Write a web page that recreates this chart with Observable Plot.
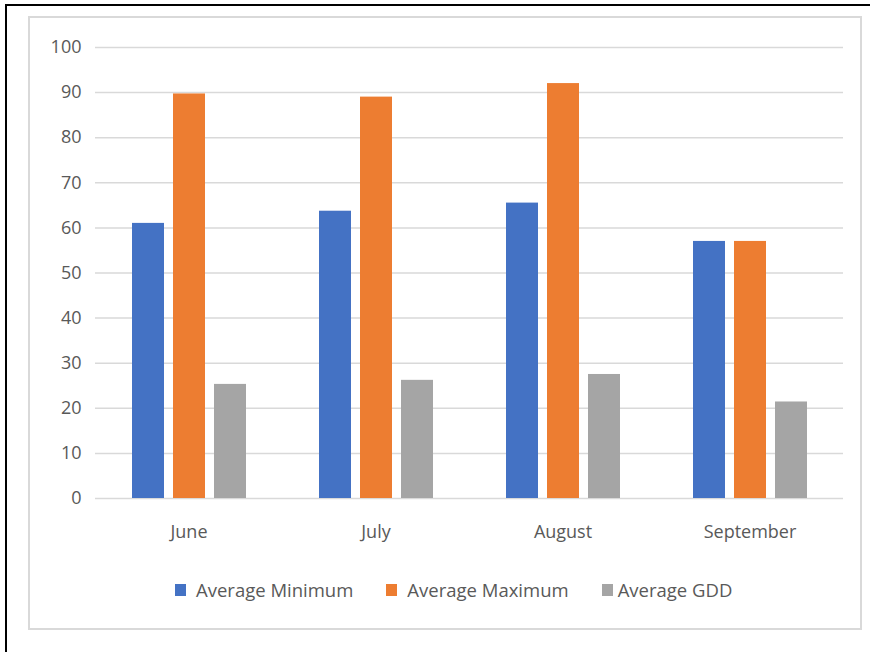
<!DOCTYPE html>
<html><head>
<meta charset="utf-8">
<script src="https://cdn.jsdelivr.net/npm/d3@7"></script>
<script src="https://cdn.jsdelivr.net/npm/@observablehq/plot@0.6"></script>
<style>
body{margin:0;background:#fff;}
#wrap{position:relative;width:870px;height:652px;overflow:hidden;font-family:"Open Sans",sans-serif;color:#595959;}
.outer{position:absolute;left:5px;top:4px;width:900px;height:700px;border:2px solid #000;box-sizing:border-box;}
.inner{position:absolute;left:28px;top:16px;width:834px;height:614px;border:2px solid #d9d9d9;box-sizing:border-box;}
#chart{position:absolute;left:0;top:0;}
#legend{position:absolute;left:175px;top:577px;display:flex;align-items:center;font-size:18.5px;white-space:nowrap;}
#legend .item{display:flex;align-items:center;margin-right:33px;}
#legend .sw{width:11px;height:12px;margin-right:10px;}
</style></head><body>
<div id="wrap">
  <div class="outer"></div>
  <div class="inner"></div>
  <div id="chart"></div>
  <div id="legend"></div>
</div>
<script>
const months = ["June", "July", "August", "September"];
const seriesNames = ["Average Minimum", "Average Maximum", "Average GDD"];
const avgMin = [61, 63.7, 65.5, 57];
const avgMax = [89.7, 89, 92, 57];
const avgGDD = [25.3, 26.2, 27.5, 21.4];
const colors = ["#4472C4", "#ED7D31", "#A5A5A5"];
const yTicks = [0, 10, 20, 30, 40, 50, 60, 70, 80, 90, 100];

const seriesValues = [avgMin, avgMax, avgGDD];
const data = months.flatMap((m, i) => seriesNames.map((s, j) => ({month: m, series: s, value: seriesValues[j][i]})));

const chart = Plot.plot({
  width: 870,
  height: 545,
  marginTop: 47,
  marginBottom: 47,
  marginLeft: 95,
  marginRight: 27,
  style: {fontFamily: "'Open Sans', sans-serif", fontSize: "18px", color: "#595959", background: "transparent"},
  fx: {domain: months, padding: 0, label: null, axis: "bottom", tickSize: 0, tickPadding: 27},
  x: {domain: seriesNames, axis: null, paddingInner: 0.23, paddingOuter: 0.87},
  y: {domain: [0, 100], ticks: yTicks, tickSize: 0, tickPadding: 14, label: null, tickFormat: d => d},
  color: {domain: seriesNames, range: colors},
  marks: [
    Plot.ruleY(yTicks, {stroke: "#d9d9d9", strokeWidth: 1.5}),
    Plot.barY(data, {fx: "month", x: "series", y: "value", fill: "series"})
  ]
});
document.getElementById("chart").appendChild(chart);

const legend = document.getElementById("legend");
seriesNames.forEach((s, i) => {
  const it = document.createElement("div");
  it.className = "item";
  const sw = document.createElement("span");
  sw.className = "sw";
  sw.style.background = colors[i];
  if (i === 2) sw.style.marginRight = "5px";
  const t = document.createElement("span");
  t.textContent = s;
  it.appendChild(sw); it.appendChild(t);
  legend.appendChild(it);
});
</script>
</body></html>
